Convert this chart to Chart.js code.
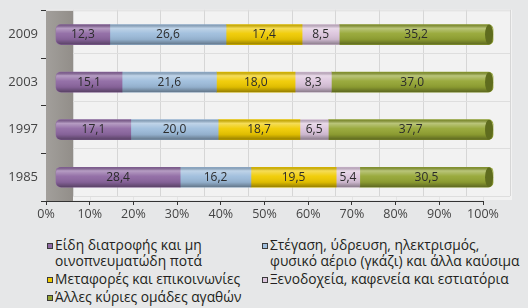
<!DOCTYPE html>
<html>
<head>
<meta charset="utf-8">
<script src="https://cdn.jsdelivr.net/npm/chart.js@4/dist/chart.umd.min.js"></script>
<style>
  body { margin: 0; background: #e6e7e8; font-family: "Open Sans", sans-serif; }
  #wrap { position: relative; width: 528px; height: 308px; overflow: hidden; }
  canvas { position: absolute; left: 0; top: 0; }
  #legend {
    position: absolute; left: 47px; top: 237px;
    display: grid; grid-template-columns: 215px 268px; row-gap: 2px;
    font-size: 13.8px; line-height: 16px; color: #231f20;
  }
  .item { position: relative; padding-left: 8px; white-space: nowrap; }
  .item i {
    position: absolute; left: 0; top: 6px; width: 4px; height: 4px;
    border: 1px solid #3a3a3a;
  }
</style>
</head>
<body>
<div id="wrap">
  <canvas id="myChart" width="528" height="228"></canvas>
  <div id="legend"></div>
</div>
<script>
// years, top to bottom
const years = ['2009', '2003', '1997', '1985'];

// shares of spending (%)
const food = [12.3, 15.1, 17.1, 28.4];
const housing = [26.6, 21.6, 20.0, 16.2];
const transport = [17.4, 18.0, 18.7, 19.5];
const hotels = [8.5, 8.3, 6.5, 5.4];
const other = [35.2, 37.0, 37.7, 30.5];

const xTicks = [0, 10, 20, 30, 40, 50, 60, 70, 80, 90, 100];

const seriesNames = [
  ['Είδη διατροφής και μη', 'οινοπνευματώδη ποτά'],
  ['Στέγαση, ύδρευση, ηλεκτρισμός,', 'φυσικό αέριο (γκάζι) και άλλα καύσιμα'],
  ['Μεταφορές και επικοινωνίες'],
  ['Ξενοδοχεία, καφενεία και εστιατόρια'],
  ['Άλλες κύριες ομάδες αγαθών']
];
const seriesColors = ['#8f69a3', '#9ebddc', '#f0cb00', '#dcc5dd', '#95a634'];
const seriesValues = [food, housing, transport, hotels, other];

Chart.defaults.font.family = '"Open Sans", sans-serif';

// depth of the fake 3d box
const depthX = 27, depthY = 5;

const wallPlugin = {
  id: 'wall',
  beforeDatasetsDraw(chart) {
    const { ctx, chartArea } = chart;
    const x = chart.scales.x;
    ctx.save();
    // back wall
    ctx.fillStyle = '#f2f2f2';
    ctx.fillRect(chartArea.left, chartArea.top - 1, chartArea.width + depthX + 2, chartArea.height);
    ctx.strokeStyle = '#d6d6d6';
    ctx.lineWidth = 1;
    xTicks.forEach(v => {
      const px = Math.round(x.getPixelForValue(v) + depthX) + 0.5;
      ctx.beginPath();
      ctx.moveTo(px, chartArea.top - 1);
      ctx.lineTo(px, chartArea.bottom - depthY);
      ctx.stroke();
    });
    ctx.strokeStyle = '#e4e4e4';
    xTicks.forEach(v => {
      const px = Math.round(x.getPixelForValue(v)) + 0.5;
      ctx.beginPath();
      ctx.moveTo(px, chartArea.bottom - depthY);
      ctx.lineTo(px, chartArea.bottom);
      ctx.stroke();
    });
    // horizontal lines on back wall between categories
    ctx.strokeStyle = '#dedede';
    for (let i = 0; i <= years.length; i++) {
      const py = Math.round(chartArea.top + i * chartArea.height / years.length - depthY) + 0.5;
      ctx.beginPath();
      ctx.moveTo(chartArea.left + depthX, Math.max(py, chartArea.top));
      ctx.lineTo(chartArea.right + depthX, Math.max(py, chartArea.top));
      ctx.stroke();
    }
    // side wall
    const g = ctx.createLinearGradient(chartArea.left, 0, chartArea.left + depthX, 0);
    g.addColorStop(0, '#a29f9b');
    g.addColorStop(1, '#928e89');
    ctx.fillStyle = g;
    ctx.fillRect(chartArea.left, chartArea.top, depthX, chartArea.height);
    ctx.restore();
  }
};

const barPlugin = {
  id: 'cylinders',
  afterDatasetsDraw(chart) {
    const { ctx } = chart;
    const first = chart.getDatasetMeta(0);
    const last = chart.getDatasetMeta(chart.data.datasets.length - 1);
    ctx.save();
    years.forEach((yr, i) => {
      const a = first.data[i].getProps(['base', 'y', 'height'], true);
      const b = last.data[i].getProps(['x', 'y', 'height'], true);
      const top = a.y - a.height / 2;
      const g = ctx.createLinearGradient(0, top, 0, top + a.height);
      g.addColorStop(0, 'rgba(0,0,0,0.18)');
      g.addColorStop(0.18, 'rgba(255,255,255,0.35)');
      g.addColorStop(0.45, 'rgba(255,255,255,0.05)');
      g.addColorStop(0.75, 'rgba(0,0,0,0.08)');
      g.addColorStop(1, 'rgba(0,0,0,0.38)');
      ctx.fillStyle = g;
      ctx.beginPath();
      ctx.roundRect(a.base, top, b.x - a.base, a.height, 5);
      ctx.fill();
      // end cap
      ctx.fillStyle = '#5f6c1e';
      ctx.beginPath();
      ctx.ellipse(b.x - 4, b.y, 4, b.height / 2, 0, 0, Math.PI * 2);
      ctx.fill();
    });
    // value labels
    ctx.fillStyle = '#2b2b2b';
    ctx.font = '12px "Open Sans", sans-serif';
    ctx.textAlign = 'center';
    ctx.textBaseline = 'middle';
    chart.data.datasets.forEach((ds, d) => {
      chart.getDatasetMeta(d).data.forEach((el, i) => {
        const p = el.getProps(['x', 'base', 'y'], true);
        const txt = ds.data[i].toFixed(1).replace('.', ',');
        ctx.fillText(txt, (p.x + p.base) / 2, p.y);
      });
    });
    ctx.restore();
  }
};

const n = seriesValues.length;
const datasets = seriesValues.map((vals, k) => ({
  label: seriesNames[k].join(' '),
  data: vals,
  xAxisID: 'x2',
  backgroundColor: seriesColors[k],
  borderWidth: 0,
  borderSkipped: false,
  borderRadius: k === 0 ? { topLeft: 5, bottomLeft: 5 } : (k === n - 1 ? { topRight: 5, bottomRight: 5 } : 0),
  barThickness: 20,
  clip: false
}));

new Chart(document.getElementById('myChart'), {
  type: 'bar',
  data: { labels: years, datasets: datasets },
  options: {
    indexAxis: 'y',
    responsive: false,
    animation: false,
    layout: { padding: { top: 10, right: 45, left: 0, bottom: 0 } },
    plugins: { legend: { display: false }, tooltip: { enabled: false } },
    scales: {
      x: {
        type: 'linear', min: 0, max: 100,
        afterBuildTicks(scale) { scale.ticks = xTicks.map(v => ({ value: v })); },
        afterFit(scale) { scale.height = 27; },
        grid: { drawOnChartArea: false, tickLength: 4, color: '#333' },
        border: { color: '#333' },
        ticks: { callback: v => v + '%', autoSkip: false, maxRotation: 0, padding: 2, color: '#444', font: { size: 12.5 } }
      },
      x2: { type: 'linear', display: false, stacked: true, min: -2.3, max: 97.7 },
      y: {
        stacked: true,
        afterFit(scale) { scale.width = 46; },
        grid: { drawOnChartArea: false, tickLength: 5, color: '#333', offset: true },
        border: { color: '#333' },
        ticks: { padding: 3, color: '#444', font: { size: 13 } }
      }
    }
  },
  plugins: [wallPlugin, barPlugin]
});

// legend, two columns, row by row
const legend = document.getElementById('legend');
seriesNames.forEach((lines, k) => {
  const div = document.createElement('div');
  div.className = 'item';
  div.innerHTML = '<i style="background:' + seriesColors[k] + '"></i>' + lines.join('<br>');
  legend.appendChild(div);
});
</script>
</body>
</html>
